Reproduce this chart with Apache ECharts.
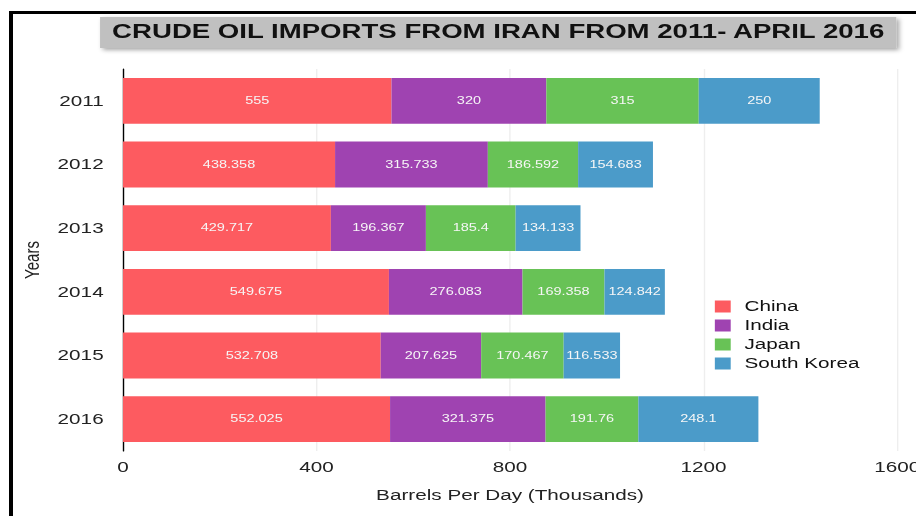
<!DOCTYPE html>
<html>
<head>
<meta charset="utf-8">
<script src="https://cdn.jsdelivr.net/npm/echarts@6/dist/echarts.min.js"></script>
<style>
  html, body { margin: 0; padding: 0; background: #fff; overflow: hidden; }
  #frame {
    position: absolute; left: 9px; top: 11px; width: 920px; height: 520px;
    border-left: 4px solid #000; border-top: 3px solid #000;
  }
  /* the source picture is stretched sideways, so the chart is drawn narrow and widened */
  #chart {
    position: absolute; left: 0; top: 0; width: 664px; height: 516px;
    transform: scaleX(1.38); transform-origin: 0 0;
  }
</style>
</head>
<body>
<div id="frame"></div>
<div id="chart"></div>
<script>
const years = ['2011', '2012', '2013', '2014', '2015', '2016'];
const countries = ['China', 'India', 'Japan', 'South Korea'];
const china = [555, 438.358, 429.717, 549.675, 532.708, 552.025];
const india = [320, 315.733, 196.367, 276.083, 207.625, 321.375];
const japan = [315, 186.592, 185.4, 169.358, 170.467, 191.76];
const southKorea = [250, 154.683, 134.133, 124.842, 116.533, 248.1];
const xTicks = [0, 400, 800, 1200, 1600];

const colors = ['#fd5b60', '#9f43b1', '#68c256', '#4b9bc9'];
const font = 'Liberation Sans, Arial, sans-serif';
const values = [china, india, japan, southKorea];

const chart = echarts.init(document.getElementById('chart'), null, { renderer: 'svg' });

chart.setOption({
  animation: false,
  textStyle: { fontFamily: font },
  title: {
    text: 'CRUDE OIL IMPORTS FROM IRAN FROM 2011- APRIL 2016',
    left: 356, top: 16, textAlign: 'center',
    textStyle: { fontSize: 20, fontWeight: 'bold', color: '#111', fontFamily: font },
  },
  graphic: [{
    type: 'rect', z: -1,
    shape: { x: 72.5, y: 17, width: 577, height: 31 },
    style: {
      fill: '#c0c0c0', shadowBlur: 4, shadowOffsetX: 2, shadowOffsetY: 2,
      shadowColor: 'rgba(0,0,0,0.35)',
    },
  }],
  legend: {
    orient: 'vertical', left: 513, top: 293,
    itemWidth: 11.5, itemHeight: 12, itemGap: 2, icon: 'rect',
    data: countries,
    textStyle: { fontSize: 15, color: '#111', lineHeight: 17, padding: [0, 0, 0, 5] },
  },
  grid: { left: 89.1, right: 13.9, top: 69, bottom: 65, containLabel: false, outerBoundsMode: 'none' },
  xAxis: {
    type: 'value', min: xTicks[0], max: xTicks[xTicks.length - 1], interval: 400,
    name: 'Barrels Per Day (Thousands)', nameLocation: 'middle', nameGap: 37,
    nameTextStyle: { fontSize: 15, color: '#222' },
    axisLine: { show: false }, axisTick: { show: false },
    axisLabel: { fontSize: 15, color: '#222', margin: 9, formatter: (v) => String(v) },
    splitLine: { lineStyle: { color: '#eeeeee' } },
  },
  yAxis: {
    type: 'category', data: years, inverse: true,
    name: 'Years', nameLocation: 'middle', nameGap: 57, nameRotate: 90,
    nameTextStyle: { fontSize: 15, color: '#222' },
    axisLine: { lineStyle: { color: '#000', width: 1 } },
    axisTick: { show: false },
    axisLabel: { fontSize: 15, color: '#222', margin: 14 },
  },
  series: countries.map((name, i) => ({
    name,
    type: 'bar',
    stack: 'total',
    barCategoryGap: '28%',
    itemStyle: { color: colors[i] },
    label: {
      show: true, position: 'inside', fontSize: 10.5, color: '#f6f6f6',
    },
    data: values[i],
  })),
});
</script>
</body>
</html>
